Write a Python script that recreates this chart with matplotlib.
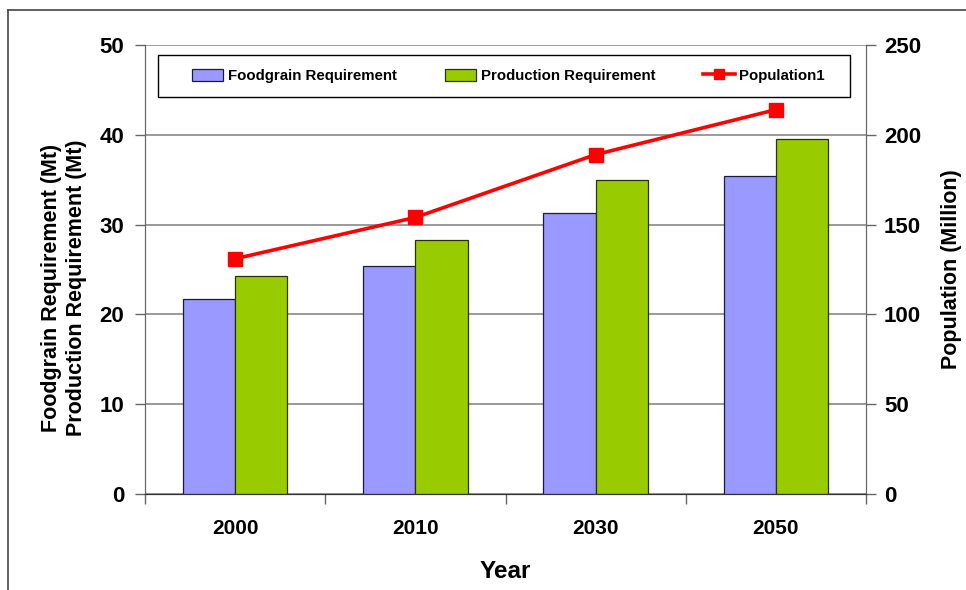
import numpy as np
import matplotlib
matplotlib.use("Agg")
import matplotlib.pyplot as plt
from matplotlib.lines import Line2D
from matplotlib.patches import Patch, Rectangle

# values
years = ["2000", "2010", "2030", "2050"]
foodgrain = [21.7, 25.4, 31.3, 35.4]
production = [24.3, 28.3, 35.0, 39.5]
population = [131, 154, 189, 214]

plt.rcParams["font.family"] = ["Liberation Sans", "DejaVu Sans"]
plt.rcParams["font.weight"] = "bold"

fig = plt.figure(figsize=(9.66, 5.9), dpi=100)
ax = fig.add_axes([0.1501, 0.1627, 0.7464, 0.761])
ax2 = ax.twinx()

x = np.arange(len(years))
w = 0.29
ax.bar(x - w / 2, foodgrain, w, color="#9999FF", edgecolor="#1a1a40", linewidth=0.9, zorder=3)
ax.bar(x + w / 2, production, w, color="#99CC00", edgecolor="#2a3300", linewidth=0.9, zorder=3)

ax2.plot(x, population, color="#FF0000", linewidth=2.6, marker="s", markersize=9.5, zorder=4)

# left axis
ax.set_xlim(-0.5, len(years) - 0.5)
ax.set_ylim(0, 50)
ax.set_yticks(range(0, 51, 10))
ax.grid(axis="y", color="#7f7f7f", linewidth=1.1, zorder=0)
ax.tick_params(axis="y", labelsize=16, length=7, width=1, color="#666666", pad=8)
ax.set_ylabel("Foodgrain Requirement (Mt)\nProduction Requirement (Mt)", fontsize=15.5,
              fontweight="bold", linespacing=1.3)
ax.yaxis.set_label_coords(-0.08, 0.46)

# category ticks at boundaries, labels in the middle
ax.set_xticks(np.arange(-0.5, len(years), 1.0))
ax.set_xticklabels([])
ax.set_xticks(x, minor=True)
ax.set_xticklabels(years, minor=True, fontsize=15)
ax.tick_params(axis="x", which="major", length=7, width=1, color="#666666")
ax.tick_params(axis="x", which="minor", length=0, pad=18)
ax.set_xlabel("Year", fontsize=17.5, fontweight="bold", labelpad=16)

# right axis
ax2.set_ylim(0, 250)
ax2.set_yticks(range(0, 251, 50))
ax2.tick_params(axis="y", labelsize=16, length=7, width=1, color="#666666", pad=6)
ax2.set_ylabel("Population (Million)", fontsize=15.5, fontweight="bold", labelpad=14)

for a in (ax, ax2):
    a.spines["top"].set_visible(False)
    a.spines["left"].set_color("#666666")
    a.spines["right"].set_color("#666666")
    a.spines["bottom"].set_color("#333333")

handles = [
    Patch(facecolor="#9999FF", edgecolor="#1a1a40", linewidth=0.9),
    Patch(facecolor="#99CC00", edgecolor="#2a3300", linewidth=0.9),
    Line2D([], [], color="#FF0000", linewidth=2.6, marker="s", markersize=7),
]
labels = ["Foodgrain Requirement", "Production Requirement", "Population1"]
leg = ax2.legend(handles, labels, loc="center", bbox_to_anchor=(0.504, 0.931),
                 ncol=3, borderaxespad=0, frameon=False, fontsize=10.8,
                 handlelength=2.1, handleheight=0.85, handletextpad=0.3,
                 columnspacing=3.2)
for t in leg.get_texts():
    t.set_fontweight("bold")

# legend box
ax2.add_patch(Rectangle((0.018, 0.884), 0.96, 0.094, transform=ax2.transAxes,
                        fill=False, edgecolor="black", linewidth=1.0, zorder=5))

# outer chart frame (partly cut off at right and bottom)
fig.add_artist(Line2D([8 / 966, 8 / 966], [0, 1 - 10 / 590], color="#444444", linewidth=1.2))
fig.add_artist(Line2D([8 / 966, 1], [1 - 10 / 590, 1 - 10 / 590], color="#444444", linewidth=1.2))

fig.savefig("out.png", dpi=100)
